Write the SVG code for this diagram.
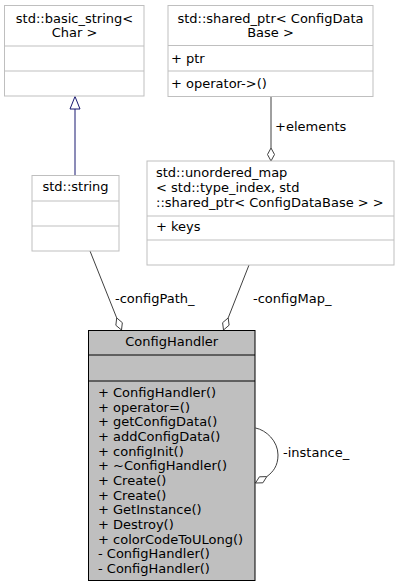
<svg xmlns="http://www.w3.org/2000/svg" width="400" height="588" viewBox="0 0 400 588">
<style>
text{font-family:"DejaVu Sans",sans-serif;font-size:13px;fill:#000}
.c{text-anchor:middle}
.box{fill:#fff;stroke:#bfbfbf;stroke-width:1}
.sep{stroke:#bfbfbf;stroke-width:1}
.main{fill:#bfbfbf;stroke:#000;stroke-width:1}
.msep{stroke:#000;stroke-width:1}
.agg{fill:none;stroke:#404040;stroke-width:1}
.dia{fill:#fff;stroke:#404040;stroke-width:1}
.inh{fill:none;stroke:#191970;stroke-width:1}
.tri{fill:#fff;stroke:#191970;stroke-width:1}
</style>
<rect width="400" height="588" fill="#fff"/>
<g id="connectors">
<path class="inh" d="M75,175V109"/>
<polygon class="tri" points="75,96.5 80,109 70,109"/>
<path class="agg" d="M90,251L116.7,317.9"/>
<polygon class="dia" points="121.5,330 122.35,322.7 116.7,317.9 115.85,325.3"/>
<text x="115" y="303">-configPath_</text>
<path class="agg" d="M249,265L228.2,317.9"/>
<polygon class="dia" points="223.5,330 229.1,325.2 228.2,317.9 222.6,322.7"/>
<text x="253" y="303">-configMap_</text>
<path class="agg" d="M271,97V148"/>
<polygon class="dia" points="271,161 274.5,154.5 271,148 267.5,154.5"/>
<text x="275" y="131">+elements</text>
<path class="agg" d="M255.5,428C266,430 278,441 278,455C278,466 273,472 266.8,476.6"/>
<polygon class="dia" points="255.5,483 262.9,482.8 266.8,476.6 259.4,476.8"/>
<text x="283" y="457">-instance_</text>
</g>
<g id="basic_string">
<rect class="box" x="4.5" y="5.5" width="139.5" height="90.5"/>
<line class="sep" x1="4.5" y1="46" x2="144" y2="46"/>
<line class="sep" x1="4.5" y1="71" x2="144" y2="71"/>
<text class="c" x="74.5" y="22.5">std::basic_string&lt;</text>
<text class="c" x="74.5" y="37.2">Char &gt;</text>
</g>
<g id="shared_ptr">
<rect class="box" x="168" y="5.5" width="205" height="91"/>
<line class="sep" x1="168" y1="45.5" x2="373" y2="45.5"/>
<line class="sep" x1="168" y1="71" x2="373" y2="71"/>
<text class="c" x="270.5" y="22.5">std::shared_ptr&lt; ConfigData</text>
<text class="c" x="270.5" y="37.2">Base &gt;</text>
<text x="171" y="62.5">+ ptr</text>
<text x="171" y="87.5">+ operator-&gt;()</text>
</g>
<g id="unordered_map">
<rect class="box" x="147" y="161" width="247" height="104"/>
<line class="sep" x1="147" y1="216" x2="394" y2="216"/>
<line class="sep" x1="147" y1="240" x2="394" y2="240"/>
<text x="156" y="177.3">std::unordered_map</text>
<text x="156" y="192">&lt; std::type_index, std</text>
<text x="156" y="206.7">::shared_ptr&lt; ConfigDataBase &gt; &gt;</text>
<text x="156" y="231">+ keys</text>
</g>
<g id="string">
<rect class="box" x="32" y="175.5" width="87" height="75.5"/>
<line class="sep" x1="32" y1="201" x2="119" y2="201"/>
<line class="sep" x1="32" y1="226" x2="119" y2="226"/>
<text class="c" x="75.5" y="191">std::string</text>
</g>
<g id="ConfigHandler">
<rect class="main" x="88.5" y="330.5" width="166.5" height="250"/>
<line class="msep" x1="88.5" y1="355" x2="255" y2="355"/>
<line class="msep" x1="88.5" y1="381" x2="255" y2="381"/>
<text class="c" x="171.75" y="346">ConfigHandler</text>
<text x="98" y="397">+ ConfigHandler()</text>
<text x="98" y="411.67">+ operator=()</text>
<text x="98" y="426.33">+ getConfigData()</text>
<text x="98" y="441">+ addConfigData()</text>
<text x="98" y="455.67">+ configInit()</text>
<text x="98" y="470.33">+ ~ConfigHandler()</text>
<text x="98" y="485">+ Create()</text>
<text x="98" y="499.67">+ Create()</text>
<text x="98" y="514.33">+ GetInstance()</text>
<text x="98" y="529">+ Destroy()</text>
<text x="98" y="543.67">+ colorCodeToULong()</text>
<text x="98" y="558.33">- ConfigHandler()</text>
<text x="98" y="573">- ConfigHandler()</text>
</g>
</svg>
